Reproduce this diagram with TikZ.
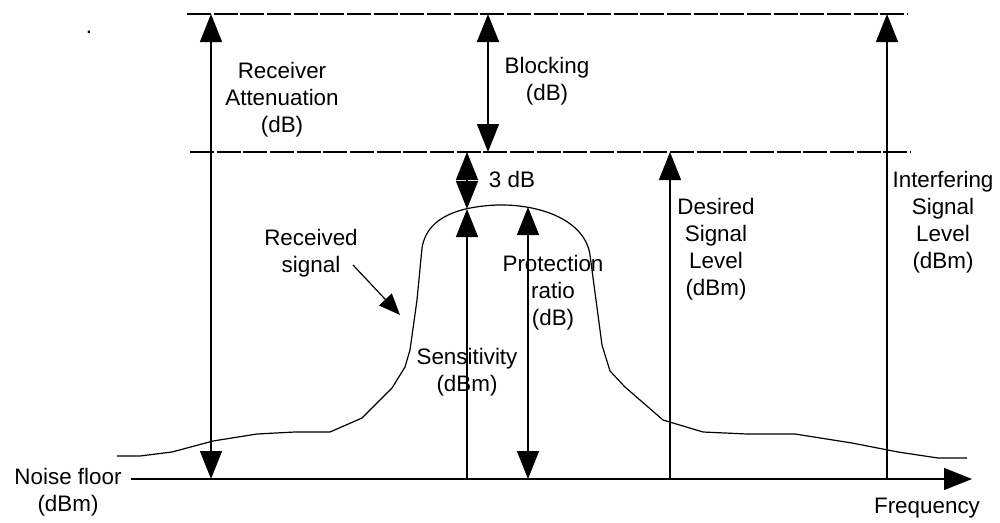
\documentclass[tikz,border=0pt]{standalone}
\usepackage{fontspec}
\setmainfont{Liberation Sans}
\usetikzlibrary{arrows.meta}

\begin{document}
\begin{tikzpicture}[x=0.75pt, y=-0.75pt, line width=0.9pt,
  lbl/.style={align=center, inner sep=0pt, font=\fontsize{16.8}{20.3}\selectfont},
  level/.style={dash pattern=on 18pt off 2pt},
  dimarr/.style={{Triangle[width=16.5pt,length=21pt]}-{Triangle[width=16.5pt,length=21pt]}},
  uparr/.style={-{Triangle[width=16.5pt,length=21pt]}},
  ptrarr/.style={-{Triangle[width=13pt,length=16pt]}}]
\useasboundingbox (0,0) rectangle (1000,522);

% levels
\coordinate (top-l) at (187,14);  \coordinate (top-r) at (908,14);
\coordinate (blk-l) at (190,152); \coordinate (blk-r) at (911,152);
\coordinate (axis-end) at (972,479);
\draw[level] (top-l) -- (top-r);
\draw[level] (blk-l) -- (blk-r);

% labels
\node[lbl] (dot) at (89,32) {.};
\node[lbl] (noise) at (68,492) {Noise floor\\(dBm)};
\node[lbl] (freq) at (927,508) {Frequency};
\node[lbl] (ratt) at (282,100) {Receiver\\Attenuation\\(dB)};
\node[lbl] (blk) at (547,81) {Blocking\\(dB)};
\node[lbl] (three) at (512,179) {3 dB};
\node[lbl] (rcv) at (311,253) {Received\\signal};
\node[lbl] (sens) at (467,372) {Sensitivity\\(dBm)};
\node[lbl] (prot) at (553,293) {Protection\\ratio\\(dB)};
\node[lbl] (des) at (716,249) {Desired\\Signal\\Level\\(dBm)};
\node[lbl] (intf) at (943,222) {Interfering\\Signal\\Level\\(dBm)};

% frequency axis
\coordinate (axis-start) at (131,479);
\draw[uparr] (axis-start) -- (axis-end);

% received signal
\draw (117,456) -- (140,456) -- (172,452) -- (213,441) -- (257,434) -- (295,432)
  -- (330,432) -- (362,418) -- (392,388) -- (405,367) -- (410,350) -- (417,300)
  -- (422,248) .. controls (426,222) and (450,207) .. (497,205)
  .. controls (540,204) and (585,220) .. (590,255)
  -- (602,345) -- (610,371) -- (625,387) -- (663,420) -- (703,432) -- (747,434)
  -- (795,434) -- (852,443) -- (898,452) -- (938,458) -- (967,458);
\coordinate (rs-from) at (353,265); \coordinate (rs-to) at (400,315);
\draw[ptrarr] (rs-from) -- (rs-to);

% dimensions
\coordinate (ratt-t) at (211,14);  \coordinate (ratt-b) at (211,479);
\coordinate (blk-t) at (488,14);   \coordinate (blk-b) at (488,152);
\coordinate (three-t) at (467,152); \coordinate (three-b) at (467,209);
\coordinate (sens-t) at (467,209); \coordinate (sens-b) at (467,479);
\coordinate (prot-t) at (528,207); \coordinate (prot-b) at (528,479);
\coordinate (des-t) at (670,152);  \coordinate (des-b) at (670,479);
\coordinate (intf-t) at (887,14);  \coordinate (intf-b) at (887,479);
\draw[dimarr] (ratt-t) -- (ratt-b);
\draw[dimarr] (blk-t) -- (blk-b);
\draw[dimarr] (three-t) -- (three-b);
\draw[uparr] (sens-b) -- (sens-t);
\draw[dimarr] (prot-t) -- (prot-b);
\draw[uparr] (des-b) -- (des-t);
\draw[uparr] (intf-b) -- (intf-t);
\end{tikzpicture}
\end{document}
